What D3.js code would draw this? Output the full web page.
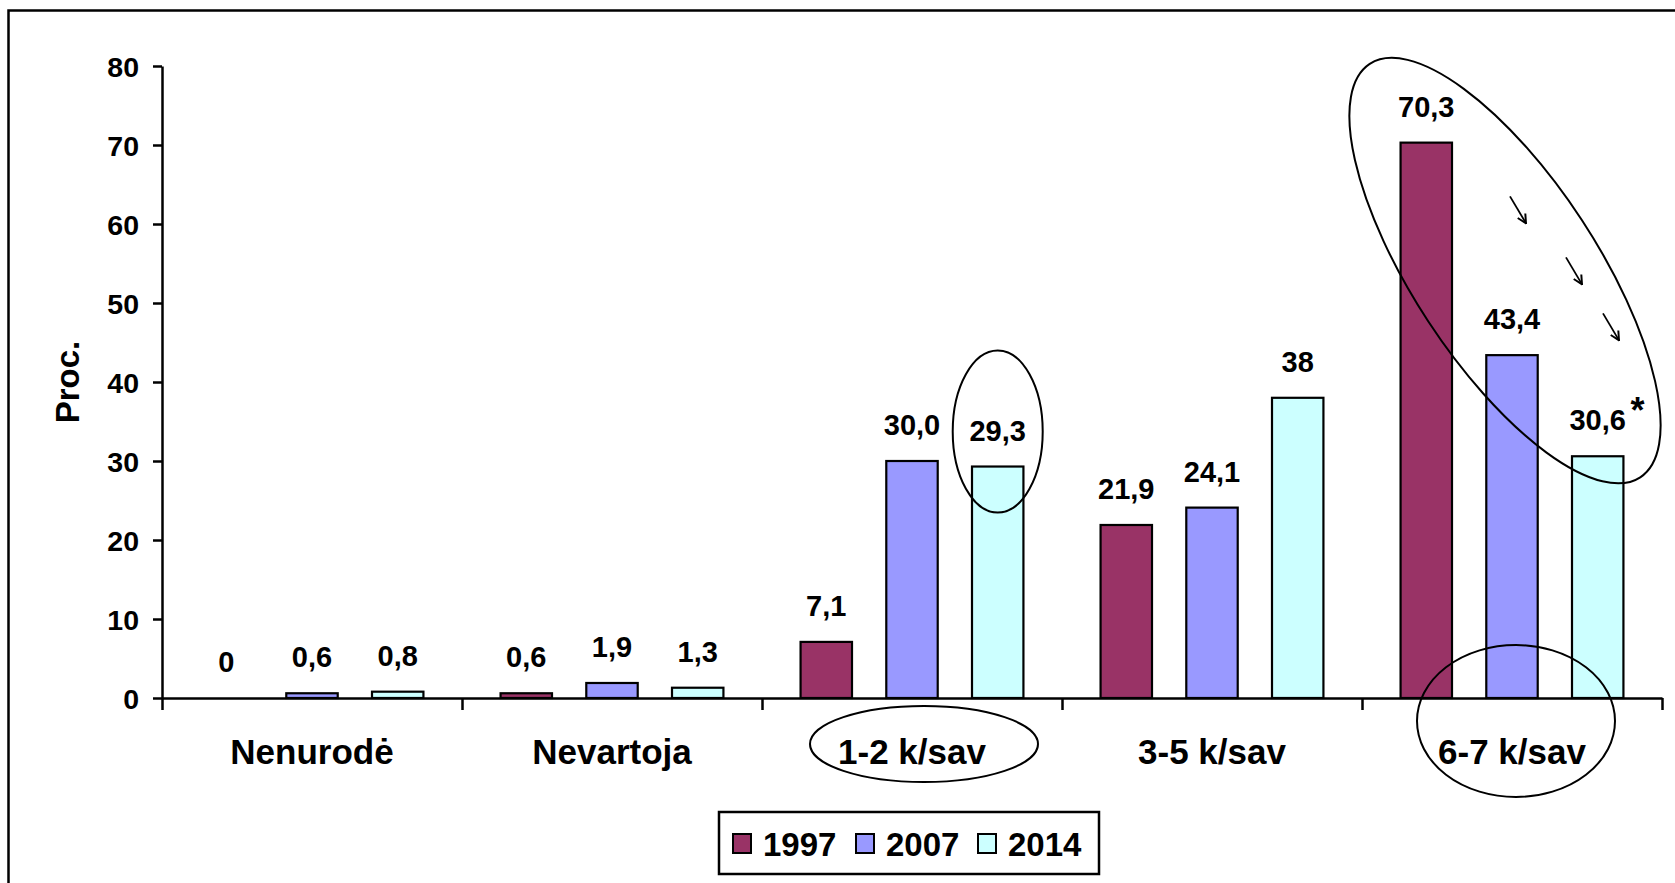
<!DOCTYPE html>
<html><head><meta charset="utf-8">
<script src="https://cdn.jsdelivr.net/npm/d3@7"></script>
<style>
html,body{margin:0;padding:0;background:#fff;}
svg{display:block;font-family:"Liberation Sans",Arial,sans-serif;font-weight:bold;}
</style></head>
<body>
<svg id="c" width="1675" height="883"></svg>
<script>
const categories = ["Nenurodė", "Nevartoja", "1-2 k/sav", "3-5 k/sav", "6-7 k/sav"];
const years = ["1997", "2007", "2014"];
const values1997 = [0, 0.6, 7.1, 21.9, 70.3];
const values2007 = [0.6, 1.9, 30.0, 24.1, 43.4];
const values2014 = [0.8, 1.3, 29.3, 38, 30.6];
const labels1997 = ["0", "0,6", "7,1", "21,9", "70,3"];
const labels2007 = ["0,6", "1,9", "30,0", "24,1", "43,4"];
const labels2014 = ["0,8", "1,3", "29,3", "38", "30,6"];
const yTicks = [0, 10, 20, 30, 40, 50, 60, 70, 80];
const colors = {"1997": "#993366", "2007": "#9999FF", "2014": "#CCFFFF"};

(function () {
const seriesValues = {"1997": values1997, "2007": values2007, "2014": values2014};
const seriesLabels = {"1997": labels1997, "2007": labels2007, "2014": labels2014};
const rows = [];
categories.forEach((c, i) => years.forEach(yr => rows.push({cat: c, year: yr, v: seriesValues[yr][i], lab: seriesLabels[yr][i]})));

const svg = d3.select("#c");
const mLeft = 162, mRight = 1662, mTop = 66, mBottom = 698;

// outer frame
svg.append("rect").attr("x", 8.5).attr("y", 10.5).attr("width", 1720).attr("height", 920)
  .attr("fill", "none").attr("stroke", "#000").attr("stroke-width", 2.5);

const y = d3.scaleLinear().domain([0, 80]).range([mBottom, mTop]);
const x0 = d3.scaleBand().domain(categories).range([mLeft, mRight]).padding(0);
const x1 = d3.scaleBand().domain(years).range([0, x0.bandwidth()]).paddingInner(0.4).paddingOuter(0.45);
const bw = x1.bandwidth();

// bars
svg.append("g").selectAll("rect").data(rows.filter(d => d.v > 0)).join("rect")
  .attr("x", d => x0(d.cat) + x1(d.year))
  .attr("y", d => y(d.v))
  .attr("width", bw)
  .attr("height", d => y(0) - y(d.v))
  .attr("fill", d => colors[d.year])
  .attr("stroke", "#000").attr("stroke-width", 2.2);

// y axis
const gy = svg.append("g").attr("transform", `translate(${mLeft},0)`)
  .call(d3.axisLeft(y).tickValues(yTicks).tickSize(9).tickSizeOuter(0).tickPadding(14));
gy.select(".domain").attr("stroke-width", 2.5);
gy.selectAll(".tick line").attr("stroke-width", 2.5);
gy.selectAll("text").attr("font-size", 28.5).attr("font-weight", "bold").attr("fill", "#000")
  .attr("font-family", "Liberation Sans, Arial, sans-serif").attr("dy", "0.36em");

// x axis with boundary ticks
const xb = d3.scaleLinear().domain([0, categories.length]).range([mLeft, mRight]);
const gx = svg.append("g").attr("transform", `translate(0,${mBottom})`)
  .call(d3.axisBottom(xb).tickValues(d3.range(categories.length + 1)).tickSize(12).tickSizeOuter(0).tickFormat(""));
gx.select(".domain").attr("stroke-width", 2.5);
gx.selectAll(".tick line").attr("stroke-width", 2.5);

// category labels
svg.append("g").selectAll("text").data(categories).join("text")
  .attr("x", d => x0(d) + x0.bandwidth() / 2)
  .attr("y", 764)
  .attr("text-anchor", "middle").attr("font-size", 35).text(d => d);

// value labels
svg.append("g").selectAll("text").data(rows).join("text")
  .attr("x", d => x0(d.cat) + x1(d.year) + bw / 2)
  .attr("y", d => y(d.v) - 26)
  .attr("text-anchor", "middle").attr("font-size", 29).text(d => d.lab);

// y title
svg.append("text").attr("transform", `translate(79,${(mTop + mBottom) / 2}) rotate(-90)`)
  .attr("text-anchor", "middle").attr("font-size", 33).text("Proc.");

// annotations
const ann = svg.append("g").attr("fill", "none").attr("stroke", "#000").attr("stroke-width", 2);
ann.append("ellipse")
  .attr("cx", x0("1-2 k/sav") + x1("2014") + bw / 2)
  .attr("cy", y(29.3) - 35)
  .attr("rx", 45).attr("ry", 81);
ann.append("ellipse")
  .attr("cx", x0("1-2 k/sav") + x0.bandwidth() / 2 + 12)
  .attr("cy", 744).attr("rx", 114).attr("ry", 38);
ann.append("ellipse")
  .attr("cx", x0("6-7 k/sav") + x0.bandwidth() / 2 + 4)
  .attr("cy", 721).attr("rx", 99).attr("ry", 76);
const bcx = x0("6-7 k/sav") + 143, bcy = y(54.1);
ann.append("ellipse")
  .attr("transform", `translate(${bcx},${bcy}) rotate(56.8)`)
  .attr("rx", 247).attr("ry", 92);

// arrows
const defs = svg.append("defs");
defs.append("marker").attr("id", "ah").attr("viewBox", "0 0 10 10").attr("refX", 9).attr("refY", 5)
  .attr("markerWidth", 11).attr("markerHeight", 11).attr("markerUnits", "userSpaceOnUse").attr("orient", "auto")
  .append("path").attr("d", "M1,1 L9,5 L1,9").attr("fill", "none").attr("stroke", "#000").attr("stroke-width", 1.8);
const arrowOffsets = [[0, 0], [56, 61], [93, 117]];
const ax0 = x0("6-7 k/sav") + 148, ay0 = y(63.5);
ann.selectAll("line.arr").data(arrowOffsets).join("line").attr("class", "arr")
  .attr("x1", d => ax0 + d[0])
  .attr("y1", d => ay0 + d[1])
  .attr("x2", d => ax0 + d[0] + 16)
  .attr("y2", d => ay0 + d[1] + 27)
  .attr("stroke-width", 1.8)
  .attr("marker-end", "url(#ah)");

// asterisk
svg.append("text").attr("x", x0("6-7 k/sav") + x1("2014") + bw + 14).attr("y", 423)
  .attr("text-anchor", "middle").attr("font-size", 36).text("*");

// legend
const lg = svg.append("g");
lg.append("rect").attr("x", 719).attr("y", 812).attr("width", 380).attr("height", 62)
  .attr("fill", "#fff").attr("stroke", "#000").attr("stroke-width", 2.5);
const legendX = [733, 856, 978];
years.forEach((yr, i) => {
  lg.append("rect").attr("x", legendX[i]).attr("y", 834).attr("width", 18).attr("height", 19)
    .attr("fill", colors[yr]).attr("stroke", "#000").attr("stroke-width", 2);
  lg.append("text").attr("x", legendX[i] + 30).attr("y", 856).attr("font-size", 33).text(yr);
});
})();
</script>
</body></html>
